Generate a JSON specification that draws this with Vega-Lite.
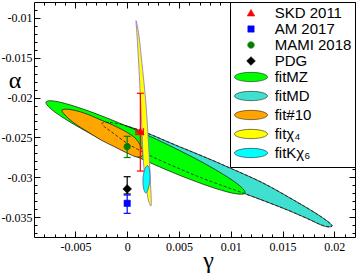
{
  "$schema": "https://vega.github.io/schema/vega-lite/v6.json",
  "width": 321,
  "height": 235,
  "autosize": {"type": "none"},
  "padding": {"left": 34, "top": 2, "right": 2, "bottom": 36},
  "background": "white",
  "config": {
    "view": {"stroke": "black", "strokeWidth": 1},
    "axis": {"grid": false, "domain": false, "tickColor": "black", "tickWidth": 1, "labelColor": "black", "labelFont": "Liberation Serif", "labelFontSize": 12, "titleColor": "black", "titleFont": "Liberation Serif", "titleFontSize": 24, "titleFontWeight": "normal", "labelOverlap": false, "labelFlush": false},
    "legend": {"orient": "top-right", "offset": 0, "padding": 3, "strokeColor": "black", "strokeWidth": 1, "fillColor": "white", "cornerRadius": 0, "symbolSize": 225, "symbolStrokeWidth": 0.6, "symbolOffset": 10, "labelFont": "Liberation Sans", "labelFontSize": 15, "labelColor": "black", "labelOffset": 15.7, "rowPadding": -3}
  },
  "datasets": {
    "tq": [
      {"i": 1, "g": -0.002434, "a": -0.023315}, {"i": 2, "g": -0.001661, "a": -0.023126}, {"i": 3, "g": -0.000212, "a": -0.023503}, {"i": 4, "g": 0.001912, "a": -0.024444}, {"i": 5, "g": 0.004423, "a": -0.025825}, {"i": 6, "g": 0.007706, "a": -0.027583}, {"i": 7, "g": 0.009928, "a": -0.028838}, {"i": 8, "g": 0.013114, "a": -0.030721}, {"i": 9, "g": 0.016398, "a": -0.033106}, {"i": 10, "g": 0.018619, "a": -0.034863}, {"i": 11, "g": 0.019778, "a": -0.036056}, {"i": 12, "g": 0.019005, "a": -0.036119}, {"i": 13, "g": 0.01717, "a": -0.035052}, {"i": 14, "g": 0.014756, "a": -0.033734}, {"i": 15, "g": 0.011183, "a": -0.031976}, {"i": 16, "g": 0.007706, "a": -0.030344}, {"i": 17, "g": 0.005099, "a": -0.028964}, {"i": 18, "g": 0.002492, "a": -0.027457}, {"i": 19, "g": 0.00027, "a": -0.025951}, {"i": 20, "g": -0.001371, "a": -0.024444}
    ],
    "gr": [
      {"i": 1, "g": 0.011376, "a": -0.031976}, {"i": 2, "g": 0.009846, "a": -0.031901}, {"i": 3, "g": 0.006153, "a": -0.030309}, {"i": 4, "g": 0.001284, "a": -0.027634}, {"i": 5, "g": -0.003454, "a": -0.024593}, {"i": 6, "g": -0.006794, "a": -0.021999}, {"i": 7, "g": -0.00784, "a": -0.020548}, {"i": 8, "g": -0.006311, "a": -0.020628}, {"i": 9, "g": -0.002618, "a": -0.02222}, {"i": 10, "g": 0.00225, "a": -0.024895}, {"i": 11, "g": 0.006989, "a": -0.027937}, {"i": 12, "g": 0.010328, "a": -0.03053}
    ],
    "or": [
      {"i": 1, "g": -0.006297, "a": -0.021557}, {"i": 2, "g": -0.005524, "a": -0.021494}, {"i": 3, "g": -0.004172, "a": -0.021934}, {"i": 4, "g": -0.00253, "a": -0.022813}, {"i": 5, "g": -0.000985, "a": -0.023691}, {"i": 6, "g": 0.000657, "a": -0.024947}, {"i": 7, "g": 0.001333, "a": -0.026202}, {"i": 8, "g": 0.001526, "a": -0.027206}, {"i": 9, "g": 0.000946, "a": -0.027457}, {"i": 10, "g": -0.000019, "a": -0.026955}, {"i": 11, "g": -0.001178, "a": -0.026202}, {"i": 12, "g": -0.00253, "a": -0.025323}, {"i": 13, "g": -0.003786, "a": -0.024319}, {"i": 14, "g": -0.005138, "a": -0.023189}, {"i": 15, "g": -0.006007, "a": -0.022185}
    ],
    "ye": [
      {"i": 1, "g": 0.00085, "a": -0.010385}, {"i": 2, "g": 0.000946, "a": -0.012142}, {"i": 3, "g": 0.001091, "a": -0.015281}, {"i": 4, "g": 0.001255, "a": -0.019423}, {"i": 5, "g": 0.001381, "a": -0.022813}, {"i": 6, "g": 0.001555, "a": -0.027834}, {"i": 7, "g": 0.001816, "a": -0.030972}, {"i": 8, "g": 0.002038, "a": -0.032855}, {"i": 9, "g": 0.002298, "a": -0.033608}, {"i": 10, "g": 0.002318, "a": -0.032603}, {"i": 11, "g": 0.002231, "a": -0.030344}, {"i": 12, "g": 0.002144, "a": -0.027834}, {"i": 13, "g": 0.001951, "a": -0.02344}, {"i": 14, "g": 0.001719, "a": -0.019423}, {"i": 15, "g": 0.001391, "a": -0.015281}, {"i": 16, "g": 0.001188, "a": -0.012771}, {"i": 17, "g": 0.001004, "a": -0.011138}
    ],
    "cy": [
      {"i": 1, "g": 0.00196, "a": -0.028524}, {"i": 2, "g": 0.002154, "a": -0.029089}, {"i": 3, "g": 0.002202, "a": -0.030218}, {"i": 4, "g": 0.002057, "a": -0.031348}, {"i": 5, "g": 0.001796, "a": -0.031976}, {"i": 6, "g": 0.001574, "a": -0.031348}, {"i": 7, "g": 0.001526, "a": -0.030218}, {"i": 8, "g": 0.001671, "a": -0.029089}
    ],
    "pts": [
      {"series": "SKD 2011", "g": 0.00127, "a": -0.02428, "lo": -0.02922, "hi": -0.01946, "glo": 0.00085, "ghi": 0.00156},
      {"series": "AM 2017", "g": 0, "a": -0.03327, "lo": -0.03453, "hi": -0.03223},
      {"series": "MAMI 2018", "g": 0, "a": -0.02616, "lo": -0.02752, "hi": -0.02486},
      {"series": "PDG", "g": 0, "a": -0.03147, "lo": -0.0321, "hi": -0.02993}
    ]
  },
  "resolve": {"axis": {"x": "independent", "y": "independent"}},
  "encoding": {
    "x": {"field": "g", "type": "quantitative", "scale": {"domain": [-0.009, 0.022], "nice": false, "zero": false}, "axis": null},
    "y": {"field": "a", "type": "quantitative", "scale": {"domain": [-0.0375, -0.008], "nice": false, "zero": false}, "axis": null}
  },
  "layer": [
    {
      "data": {"name": "tq"},
      "mark": {"type": "line", "interpolate": "cardinal-closed", "fill": "#40e0d0", "stroke": "#111111", "strokeWidth": 0.7},
      "encoding": {
        "order": {"field": "i", "type": "quantitative"},
        "x": {"field": "g", "type": "quantitative", "scale": {"domain": [-0.009, 0.022], "nice": false, "zero": false},
          "axis": {"orient": "bottom", "values": [-0.005, 0, 0.005, 0.01, 0.015, 0.02], "tickSize": -6, "labelPadding": 10, "labelExpr": "replace(format(datum.value, '~g'), '−', '-')", "title": "γ", "titleX": 174, "titleY": 30, "titleBaseline": "alphabetic", "titleAlign": "center"}},
        "y": {"field": "a", "type": "quantitative", "scale": {"domain": [-0.0375, -0.008], "nice": false, "zero": false},
          "axis": {"orient": "left", "values": [-0.035, -0.03, -0.025, -0.02, -0.015, -0.01], "tickSize": -6, "labelPadding": 8, "labelExpr": "replace(format(datum.value, '~g'), '−', '-')", "title": "α", "titleAngle": 0, "titleX": -19.5, "titleY": 85, "titleBaseline": "alphabetic", "titleAlign": "center"}}
      }
    },
    {
      "data": {"name": "gr"},
      "mark": {"type": "line", "interpolate": "cardinal-closed", "fill": "#00ff00", "stroke": "#111111", "strokeWidth": 0.7},
      "encoding": {
        "order": {"field": "i", "type": "quantitative"},
        "x": {"field": "g", "type": "quantitative", "scale": {"domain": [-0.009, 0.022], "nice": false, "zero": false},
          "axis": {"orient": "top", "values": [-0.005, 0, 0.005, 0.01, 0.015, 0.02], "tickSize": -6, "labels": false, "title": null}},
        "y": {"field": "a", "type": "quantitative", "scale": {"domain": [-0.0375, -0.008], "nice": false, "zero": false},
          "axis": {"orient": "right", "values": [-0.035, -0.03, -0.025, -0.02, -0.015, -0.01], "tickSize": -6, "labels": false, "title": null}}
      }
    },
    {
      "data": {"name": "or"},
      "mark": {"type": "line", "interpolate": "cardinal-closed", "fill": "#ffa500", "stroke": "#111111", "strokeWidth": 0.7},
      "encoding": {
        "order": {"field": "i", "type": "quantitative"},
        "x": {"field": "g", "type": "quantitative", "scale": {"domain": [-0.009, 0.022], "nice": false, "zero": false},
          "axis": {"orient": "bottom", "values": [-0.008, -0.007, -0.006, -0.004, -0.003, -0.002, -0.001, 0.001, 0.002, 0.003, 0.004, 0.006, 0.007, 0.008, 0.009, 0.011, 0.012, 0.013, 0.014, 0.016, 0.017, 0.018, 0.019, 0.021], "tickSize": -3, "labels": false, "title": null}},
        "y": {"field": "a", "type": "quantitative", "scale": {"domain": [-0.0375, -0.008], "nice": false, "zero": false},
          "axis": {"orient": "left", "values": [-0.037, -0.036, -0.034, -0.033, -0.032, -0.031, -0.029, -0.028, -0.027, -0.026, -0.024, -0.023, -0.022, -0.021, -0.019, -0.018, -0.017, -0.016, -0.014, -0.013, -0.012, -0.011, -0.009], "tickSize": -3, "labels": false, "title": null}}
      }
    },
    {
      "data": {"name": "tq"},
      "mark": {"type": "line", "interpolate": "cardinal-closed", "stroke": "#1a1a1a", "strokeWidth": 0.8, "strokeDash": [3, 2]},
      "encoding": {
        "order": {"field": "i", "type": "quantitative"},
        "x": {"field": "g", "type": "quantitative", "scale": {"domain": [-0.009, 0.022], "nice": false, "zero": false},
          "axis": {"orient": "top", "values": [-0.008, -0.007, -0.006, -0.004, -0.003, -0.002, -0.001, 0.001, 0.002, 0.003, 0.004, 0.006, 0.007, 0.008, 0.009, 0.011, 0.012, 0.013, 0.014, 0.016, 0.017, 0.018, 0.019, 0.021], "tickSize": -3, "labels": false, "title": null}},
        "y": {"field": "a", "type": "quantitative", "scale": {"domain": [-0.0375, -0.008], "nice": false, "zero": false},
          "axis": {"orient": "right", "values": [-0.037, -0.036, -0.034, -0.033, -0.032, -0.031, -0.029, -0.028, -0.027, -0.026, -0.024, -0.023, -0.022, -0.021, -0.019, -0.018, -0.017, -0.016, -0.014, -0.013, -0.012, -0.011, -0.009], "tickSize": -3, "labels": false, "title": null}}
      }
    },
    {
      "data": {"name": "ye"},
      "mark": {"type": "line", "interpolate": "cardinal-closed", "fill": "#ffff00", "stroke": "#8a6fd0", "strokeWidth": 0.8},
      "encoding": {"order": {"field": "i", "type": "quantitative"}}
    },
    {
      "data": {"name": "cy"},
      "mark": {"type": "line", "interpolate": "cardinal-closed", "fill": "#00ffff", "stroke": "#4a4a8a", "strokeWidth": 0.7},
      "encoding": {"order": {"field": "i", "type": "quantitative"}}
    },
    {
      "data": {"name": "pts"},
      "mark": {"type": "rule", "strokeWidth": 1.2},
      "encoding": {
        "y": {"field": "lo", "type": "quantitative", "scale": {"domain": [-0.0375, -0.008], "nice": false, "zero": false}, "axis": null},
        "y2": {"field": "hi"},
        "stroke": {"field": "series", "type": "nominal", "title": null}
      }
    },
    {
      "data": {"name": "pts"},
      "transform": [{"filter": "isValid(datum.glo)"}],
      "mark": {"type": "rule", "strokeWidth": 1.2},
      "encoding": {
        "x": {"field": "glo", "type": "quantitative", "scale": {"domain": [-0.009, 0.022], "nice": false, "zero": false}, "axis": null},
        "x2": {"field": "ghi"},
        "stroke": {"field": "series", "type": "nominal", "title": null}
      }
    },
    {
      "data": {"name": "pts"},
      "mark": {"type": "tick", "orient": "horizontal", "size": 7, "thickness": 1.2, "opacity": 1},
      "encoding": {
        "y": {"field": "lo", "type": "quantitative", "scale": {"domain": [-0.0375, -0.008], "nice": false, "zero": false}, "axis": null},
        "fill": {"field": "series", "type": "nominal", "title": null}
      }
    },
    {
      "data": {"name": "pts"},
      "mark": {"type": "tick", "orient": "horizontal", "size": 7, "thickness": 1.2, "opacity": 1},
      "encoding": {
        "y": {"field": "hi", "type": "quantitative", "scale": {"domain": [-0.0375, -0.008], "nice": false, "zero": false}, "axis": null},
        "fill": {"field": "series", "type": "nominal", "title": null}
      }
    },
    {
      "data": {"name": "pts"},
      "transform": [{"filter": "isValid(datum.glo)"}],
      "mark": {"type": "tick", "orient": "vertical", "size": 7, "thickness": 1.2, "opacity": 1},
      "encoding": {
        "x": {"field": "glo", "type": "quantitative", "scale": {"domain": [-0.009, 0.022], "nice": false, "zero": false}, "axis": null},
        "fill": {"field": "series", "type": "nominal", "title": null}
      }
    },
    {
      "data": {"name": "pts"},
      "transform": [{"filter": "isValid(datum.ghi)"}],
      "mark": {"type": "tick", "orient": "vertical", "size": 7, "thickness": 1.2, "opacity": 1},
      "encoding": {
        "x": {"field": "ghi", "type": "quantitative", "scale": {"domain": [-0.009, 0.022], "nice": false, "zero": false}, "axis": null},
        "fill": {"field": "series", "type": "nominal", "title": null}
      }
    },
    {
      "data": {"name": "pts"},
      "mark": {"type": "point", "filled": true, "size": 225, "opacity": 1, "strokeWidth": 0.6},
      "encoding": {
        "fill": {"field": "series", "type": "nominal", "title": null,
          "scale": {"domain": ["SKD 2011", "AM 2017", "MAMI 2018", "PDG", "fitMZ", "fitMD", "fit#10", "fitχ₄", "fitKχ₆"],
            "range": ["#ff0000", "#0000ff", "#008000", "#000000", "#00ff00", "#40e0d0", "#ffa500", "#ffff00", "#00ffff"]}},
        "stroke": {"field": "series", "type": "nominal", "title": null,
          "scale": {"domain": ["SKD 2011", "AM 2017", "MAMI 2018", "PDG", "fitMZ", "fitMD", "fit#10", "fitχ₄", "fitKχ₆"],
            "range": ["#ff0000", "#0000ff", "#008000", "#000000", "#222222", "#222222", "#222222", "#222222", "#222222"]}},
        "shape": {"field": "series", "type": "nominal", "title": null,
          "scale": {"domain": ["SKD 2011", "AM 2017", "MAMI 2018", "PDG", "fitMZ", "fitMD", "fit#10", "fitχ₄", "fitKχ₆"],
            "range": ["M0,-0.48L0.5,0.4L-0.5,0.4Z", "M-0.42,-0.42L0.42,-0.42L0.42,0.42L-0.42,0.42Z", "M-0.44,0A0.44,0.44 0 1,0 0.44,0A0.44,0.44 0 1,0 -0.44,0Z", "M0,-0.58L0.58,0L0,0.58L-0.58,0Z",
              "M-2.2,0A2.2,0.62 0 1,0 2.2,0A2.2,0.62 0 1,0 -2.2,0ZM0,1.2", "M-2.2,0A2.2,0.62 0 1,0 2.2,0A2.2,0.62 0 1,0 -2.2,0ZM0,1.2", "M-2.2,0A2.2,0.62 0 1,0 2.2,0A2.2,0.62 0 1,0 -2.2,0ZM0,1.2", "M-2.2,0A2.2,0.62 0 1,0 2.2,0A2.2,0.62 0 1,0 -2.2,0ZM0,1.2", "M-2.2,0A2.2,0.62 0 1,0 2.2,0A2.2,0.62 0 1,0 -2.2,0ZM0,1.2"]}}
      }
    }
  ]
}
